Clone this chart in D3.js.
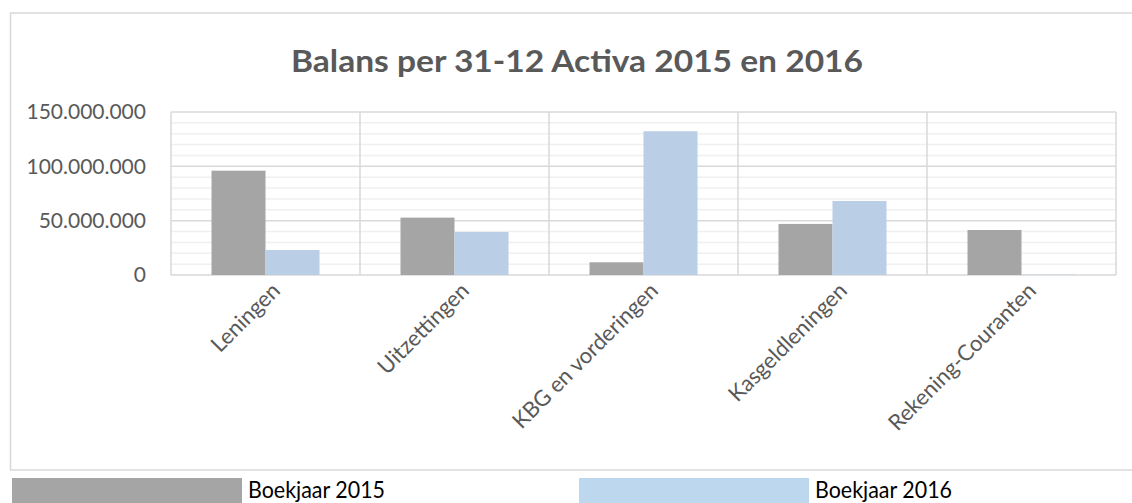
<!DOCTYPE html>
<html>
<head>
<meta charset="utf-8">
<script src="https://cdn.jsdelivr.net/npm/d3@7"></script>
<style>
  body { margin: 0; background: #fff; }
  text { font-family: Lato, "Open Sans", sans-serif; }
</style>
</head>
<body>
<svg id="chart" width="1132" height="503"></svg>
<script>
// chart values
var categories = ['Leningen', 'Uitzettingen', 'KBG en vorderingen', 'Kasgeldleningen', 'Rekening-Couranten'];
var series = ['Boekjaar 2015', 'Boekjaar 2016'];
var values2015 = [96000000, 52800000, 11700000, 47000000, 41400000];
var values2016 = [23000000, 39600000, 132300000, 68100000, 300000];
var yTicks = [0, 50000000, 100000000, 150000000];
var colors = ['#a5a5a5', '#bacee6'];
var legendColors = ['#a5a5a5', '#bdd7ee'];

var svg = d3.select('#chart');

var x = d3.scaleBand().domain(categories).range([171, 1116]);
var xs = d3.scaleBand().domain(series).range([40.5, 148.5]);
var y = d3.scaleLinear().domain([0, 150000000]).range([275, 112]);

// outer border of the chart
svg.append('path')
  .attr('d', 'M 1134,13 L 10.5,13 L 10.5,470 L 1134,470')
  .style('fill', 'none')
  .style('stroke', '#d9d9d9')
  .style('stroke-width', 1.5);

// title
svg.append('text')
  .attr('x', 577)
  .attr('y', 72)
  .attr('text-anchor', 'middle')
  .attr('textLength', 572)
  .attr('lengthAdjust', 'spacingAndGlyphs')
  .style('font-size', '31px')
  .style('font-weight', 'bold')
  .style('fill', '#595959')
  .text('Balans per 31-12 Activa 2015 en 2016');

// minor gridlines every 10M
var minor = d3.range(10000000, 150000000, 10000000).filter((d) => d % 50000000 != 0);
svg.selectAll('.minor')
  .data(minor)
  .enter()
  .append('line')
  .attr('class', 'minor')
  .attr('x1', 171).attr('x2', 1116)
  .attr('y1', (d) => y(d)).attr('y2', (d) => y(d))
  .style('stroke', '#f0f0f0')
  .style('stroke-width', 1.5);

// major gridlines
svg.selectAll('.major')
  .data(yTicks)
  .enter()
  .append('line')
  .attr('class', 'major')
  .attr('x1', 171).attr('x2', 1116)
  .attr('y1', (d) => y(d)).attr('y2', (d) => y(d))
  .style('stroke', '#d9d9d9')
  .style('stroke-width', 1.5);

// vertical category separators
var seps = categories.map((c) => x(c)).concat([x.range()[1]]);
svg.selectAll('.sep')
  .data(seps)
  .enter()
  .append('line')
  .attr('class', 'sep')
  .attr('x1', (d) => d).attr('x2', (d) => d)
  .attr('y1', y(150000000)).attr('y2', y(0))
  .style('stroke', '#d9d9d9')
  .style('stroke-width', 1.5);

// bars
var rows = categories.map((c, i) => ({ cat: c, vals: [values2015[i], values2016[i]] }));
var groups = svg.selectAll('.group')
  .data(rows)
  .enter()
  .append('g')
  .attr('class', 'group')
  .attr('transform', (d) => 'translate(' + x(d.cat) + ',0)');

groups.selectAll('rect')
  .data((d) => d.vals.map((v, i) => ({ s: series[i], v: v, i: i })))
  .enter()
  .append('rect')
  .attr('x', (d) => xs(d.s))
  .attr('width', xs.bandwidth())
  .attr('y', (d) => y(d.v))
  .attr('height', (d) => y(0) - y(d.v))
  .style('fill', (d) => colors[d.i]);

// y axis labels
var fmt = (d) => d3.format(',')(d).replace(/,/g, '.');
var yAxis = svg.append('g')
  .attr('transform', 'translate(160,0)')
  .call(d3.axisLeft(y).tickValues(yTicks).tickFormat(fmt).tickSize(0).tickPadding(14));
yAxis.select('.domain').remove();
yAxis.selectAll('text')
  .style('font-family', 'Lato, "Open Sans", sans-serif')
  .style('font-size', '21px')
  .style('fill', '#595959');

// category labels, rotated
svg.selectAll('.cat')
  .data(categories)
  .enter()
  .append('text')
  .attr('class', 'cat')
  .attr('text-anchor', 'end')
  .attr('transform', (d) => 'translate(' + (x(d) + x.bandwidth() / 2 + 16) + ',292) rotate(-45)')
  .style('font-size', '22px')
  .style('fill', '#595959')
  .text((d) => d);

// legend
var legendX = [12, 579];
var legend = svg.selectAll('.legend')
  .data(series)
  .enter()
  .append('g')
  .attr('class', 'legend')
  .attr('transform', (d, i) => 'translate(' + legendX[i] + ',478)');
legend.append('rect')
  .attr('width', 230)
  .attr('height', 26)
  .style('fill', (d, i) => legendColors[i]);
legend.append('text')
  .attr('x', 236)
  .attr('y', 20)
  .attr('textLength', 137)
  .attr('lengthAdjust', 'spacingAndGlyphs')
  .style('font-size', '24px')
  .style('fill', '#000')
  .text((d) => d);
</script>
</body>
</html>
